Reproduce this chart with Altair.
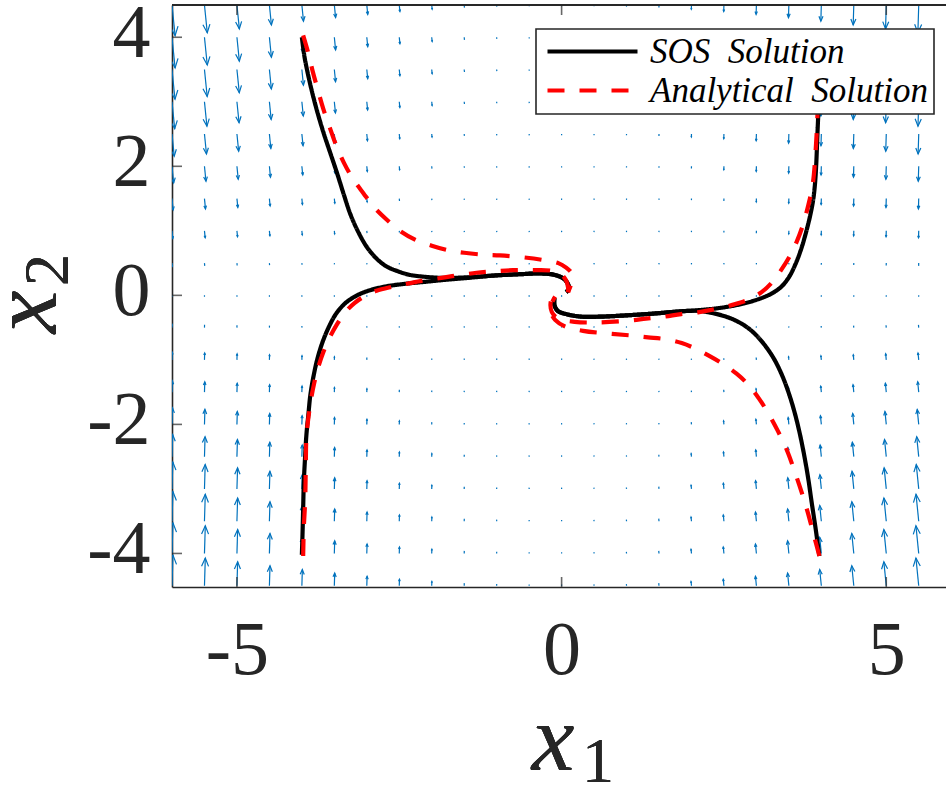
import math
import altair as alt
import pandas as pd

# ---------------- data ----------------
grid_x = [-6.0, -5.5, -5.0, -4.5, -4.0, -3.5, -3.0, -2.5, -2.0, -1.5, -1.0, -0.5,
          0.0, 0.5, 1.0, 1.5, 2.0, 2.5, 3.0, 3.5, 4.0, 4.5, 5.0, 5.5]
grid_y = [-4.5, -4.0, -3.5, -3.0, -2.5, -2.0, -1.5, -1.0, -0.5, 0.0,
          0.5, 1.0, 1.5, 2.0, 2.5, 3.0, 3.5, 4.0, 4.5]
col_mag = [0.95, 0.86, 0.74, 0.62, 0.50, 0.39, 0.29, 0.20, 0.13, 0.08, 0.05, 0.03,
           0.02, 0.03, 0.05, 0.08, 0.13, 0.20, 0.29, 0.39, 0.50, 0.62, 0.74, 0.86]
row_mag = [1.0, 1.0, 0.97, 0.88, 0.72, 0.54, 0.37, 0.25, 0.10, 0.0,
           0.10, 0.25, 0.37, 0.54, 0.72, 0.88, 0.97, 1.0, 1.0]
lean_cross = 0.10
lean_same = 0.03

sos1_x = [-4.0, -3.96, -3.9, -3.83, -3.75, -3.66, -3.56, -3.46, -3.35, -3.25, -3.13, -3.0,
          -2.85, -2.7, -2.54, -2.35, -2.13, -1.8, -1.45, -1.0, -0.6, -0.35, -0.12, 0.03,
          0.1, 0.11, 0.07]
sos1_y = [4.0, 3.7, 3.4, 3.1, 2.8, 2.5, 2.2, 1.9, 1.55, 1.25, 0.98, 0.75,
          0.57, 0.45, 0.38, 0.32, 0.29, 0.27, 0.28, 0.31, 0.33, 0.34, 0.32, 0.26,
          0.17, 0.1, 0.05]
sos2_x = [-4.0, -3.99, -3.98, -3.97, -3.95, -3.93, -3.9, -3.87, -3.82, -3.76, -3.68, -3.58,
          -3.47, -3.33, -3.15, -2.95, -2.7, -2.4, -2.1, -1.8, -1.45, -1.0, -0.6, -0.35,
          -0.12, 0.03, 0.1, 0.11, 0.07]
sos2_y = [-4.02, -3.7, -3.3, -2.9, -2.5, -2.16, -1.85, -1.55, -1.25, -0.98, -0.72, -0.48,
          -0.28, -0.12, 0.0, 0.08, 0.14, 0.18, 0.21, 0.24, 0.27, 0.31, 0.33, 0.34,
          0.32, 0.26, 0.17, 0.1, 0.05]
sos3_x = [3.98, 3.97, 3.96, 3.94, 3.92, 3.9, 3.87, 3.82, 3.76, 3.69, 3.6, 3.5, 3.38, 3.22,
          3.0, 2.7, 2.4, 2.1, 1.8, 1.45, 1.0, 0.6, 0.3, 0.07, -0.06, -0.11, -0.11]
sos3_y = [4.0, 3.5, 3.0, 2.5, 2.0, 1.7, 1.45, 1.2, 0.96, 0.72, 0.48, 0.28, 0.13, 0.02,
          -0.07, -0.15, -0.2, -0.23, -0.25, -0.28, -0.31, -0.33, -0.33, -0.29, -0.24,
          -0.15, -0.04]
sos4_x = [3.97, 3.91, 3.85, 3.8, 3.74, 3.67, 3.59, 3.5, 3.4, 3.28, 3.15, 3.0, 2.85, 2.68,
          2.5, 2.3, 2.1, 1.8, 1.45, 1.0, 0.6, 0.3, 0.07, -0.06, -0.11, -0.11]
sos4_y = [-4.04, -3.6, -3.2, -2.85, -2.5, -2.15, -1.82, -1.52, -1.25, -1.0, -0.8, -0.62,
          -0.49, -0.39, -0.32, -0.27, -0.24, -0.25, -0.28, -0.31, -0.33, -0.33, -0.29,
          -0.24, -0.15, -0.04]

ana1_x = [-3.98, -3.9, -3.83, -3.75, -3.67, -3.57, -3.47, -3.35, -3.21, -3.05, -2.9, -2.7,
          -2.49, -2.25, -2.0, -1.75, -1.5, -1.2, -0.95, -0.6, -0.3, -0.05, 0.07, 0.15, 0.17,
          0.14, 0.1]
ana1_y = [4.03, 3.75, 3.46, 3.17, 2.89, 2.6, 2.32, 2.05, 1.8, 1.58, 1.38, 1.18,
          1.0, 0.86, 0.77, 0.7, 0.66, 0.63, 0.62, 0.59, 0.55, 0.5, 0.43, 0.35, 0.26,
          0.15, 0.05]
ana2_x = [-3.98, -3.97, -3.95, -3.94, -3.93, -3.9, -3.86, -3.81, -3.75, -3.67, -3.57, -3.46,
          -3.34, -3.19, -3.03, -2.85, -2.62, -2.38, -2.13, -1.85, -1.6, -1.31, -1.06, -0.75,
          -0.45, -0.15, 0.0, 0.07, 0.1, 0.1]
ana2_y = [-4.04, -3.6, -3.2, -2.7, -2.2, -1.9, -1.62, -1.36, -1.12, -0.88, -0.65, -0.45,
          -0.27, -0.12, -0.01, 0.07, 0.13, 0.18, 0.23, 0.27, 0.31, 0.35, 0.37, 0.39,
          0.39, 0.38, 0.32, 0.23, 0.12, 0.03]
ana3_x = [3.98, 3.97, 3.95, 3.94, 3.92, 3.87, 3.8, 3.71, 3.62, 3.51, 3.38, 3.24, 3.08, 2.89,
          2.66, 2.38, 2.12, 1.84, 1.58, 1.3, 1.05, 0.58, 0.2, -0.05, -0.15, -0.17, -0.13]
ana3_y = [4.0, 3.6, 3.2, 2.79, 2.37, 1.74, 1.4, 1.07, 0.83, 0.6, 0.39, 0.2, 0.05, -0.06,
          -0.14, -0.21, -0.26, -0.29, -0.33, -0.36, -0.39, -0.42, -0.41, -0.36, -0.26, -0.12, 0.0]
ana4_x = [3.97, 3.88, 3.79, 3.7, 3.61, 3.47, 3.33, 3.19, 3.04, 2.88, 2.69, 2.48, 2.26, 2.05,
          1.85, 1.6, 1.33, 1.05, 0.7, 0.33, 0.05, -0.1, -0.17, -0.15, -0.1]
ana4_y = [-4.04, -3.7, -3.36, -3.06, -2.79, -2.4, -2.1, -1.84, -1.6, -1.39, -1.21, -1.06,
          -0.93, -0.82, -0.74, -0.68, -0.65, -0.62, -0.59, -0.55, -0.48, -0.38, -0.25, -0.12,
          -0.02]

series_names = ["SOS\u00a0\u00a0Solution", "Analytical\u00a0\u00a0Solution"]
x_ticks = [-5, 0, 5]
y_ticks = [-4, -2, 0, 2, 4]

X_MIN, X_MAX = -6.0, 5.92
Y_MIN, Y_MAX = -4.52, 4.5
W, H = 774, 582
PAD_L, PAD_T = 172, 5
KX = W / (X_MAX - X_MIN)
KY = H / (Y_MAX - Y_MIN)
SPACING = 0.5
BLUE = "#0072BD"
AX = "#262626"
FONT = "Liberation Serif"

rows = []
for i, gx in enumerate(grid_x):
    for j, gy in enumerate(grid_y):
        mag = max(col_mag[i] * row_mag[j], 0.04) * SPACING
        dir_y = -1.0 if gy > 0 else (1.0 if gy < 0 else -1.0)
        sx = -1.0 if gx > 0 else 1.0
        lean = lean_cross if gx * gy < 0 else lean_same
        dy = dir_y * mag
        dx = sx * lean * mag
        tx, ty = gx + dx, gy + dy
        px_dx, px_dy = dx * KX, -dy * KY
        lpx = math.hypot(px_dx, px_dy)
        ang = math.degrees(math.atan2(px_dy, px_dx)) % 360
        head = 0.3 * lpx if lpx > 3 else 0.0
        rows.append(dict(x=gx, y=gy, tx=tx, ty=ty, ang=ang, hs=(2 * head) ** 2))
quiver = pd.DataFrame(rows)


def curve_frame(xs, ys, cid, series):
    return pd.DataFrame({"x": xs, "y": ys, "ord": list(range(len(xs))),
                         "cid": cid, "series": series})


sos_df = pd.concat([
    curve_frame(sos1_x, sos1_y, "s1", series_names[0]),
    curve_frame(sos2_x, sos2_y, "s2", series_names[0]),
    curve_frame(sos3_x, sos3_y, "s3", series_names[0]),
    curve_frame(sos4_x, sos4_y, "s4", series_names[0]),
])
ana_df = pd.concat([
    curve_frame(ana1_x, ana1_y, "a1", series_names[1]),
    curve_frame(ana2_x, ana2_y, "a2", series_names[1]),
    curve_frame(ana3_x, ana3_y, "a3", series_names[1]),
    curve_frame(ana4_x, ana4_y, "a4", series_names[1]),
])
xt_df = pd.DataFrame({"x": x_ticks})
yt_df = pd.DataFrame({"y": y_ticks})

xscale = alt.Scale(domain=[X_MIN, X_MAX], nice=False, zero=False)
yscale = alt.Scale(domain=[Y_MIN, Y_MAX], nice=False, zero=False)
lab_expr = "datum.value < 0 ? '-' + format(abs(datum.value), 'd') : format(datum.value, 'd')"
xaxis = alt.Axis(values=x_ticks, labelExpr=lab_expr, title=None, ticks=False, grid=False,
                 labelPadding=26, labelFontSize=76, labelFont=FONT, labelColor=AX,
                 domainColor=AX, domainWidth=1.6, labelFlush=False, labelOverlap=False)
yaxis = alt.Axis(values=y_ticks, labelExpr=lab_expr, title=None, ticks=False, grid=False,
                 labelPadding=22, labelFontSize=76, labelFont=FONT, labelColor=AX,
                 domainColor=AX, domainWidth=1.6, labelOffset=-4, labelFlush=False,
                 labelOverlap=False)


def X(f="x"):
    return alt.X(f"{f}:Q", scale=xscale, axis=xaxis)


def Y(f="y"):
    return alt.Y(f"{f}:Q", scale=yscale, axis=yaxis)


color = alt.Color("series:N", scale=alt.Scale(domain=series_names, range=["black", "#FF0000"]),
                  legend=alt.Legend(title=None))
dash = alt.StrokeDash("series:N", scale=alt.Scale(domain=series_names, range=[[1, 0], [17, 15]]),
                      legend=alt.Legend(title=None))

shafts = alt.Chart(quiver).mark_rule(clip=True, strokeWidth=1.2, color=BLUE).encode(
    x=X(), y=Y(), x2="tx:Q", y2="ty:Q")
heads = alt.Chart(quiver).mark_point(
    clip=True, shape="M-1,-0.42L0,0L-1,0.42", filled=False, strokeWidth=1.2, color=BLUE,
    opacity=1).encode(
    x=X("tx"), y=Y("ty"),
    angle=alt.Angle("ang:Q", scale=None),
    size=alt.Size("hs:Q", scale=None))

sos_lines = alt.Chart(sos_df).mark_line(clip=True, strokeWidth=4.2, interpolate="catmull-rom").encode(
    x=X(), y=Y(), order="ord:Q", detail="cid:N", color=color, strokeDash=dash)
ana_lines = alt.Chart(ana_df).mark_line(clip=True, strokeWidth=4.2, interpolate="catmull-rom").encode(
    x=X(), y=Y(), order="ord:Q", detail="cid:N", color=color, strokeDash=dash)

xt_bottom = alt.Chart(xt_df).mark_tick(orient="vertical", clip=True, size=20, thickness=1.6,
                                       color=AX).encode(x=X(), y=alt.datum(Y_MIN))
xt_top = alt.Chart(xt_df).mark_tick(orient="vertical", clip=True, size=20, thickness=1.6,
                                    color=AX).encode(x=X(), y=alt.datum(Y_MAX))
yt_left = alt.Chart(yt_df).mark_tick(orient="horizontal", clip=True, size=20, thickness=1.6,
                                     color=AX).encode(x=alt.datum(X_MIN), y=Y())
top_border = alt.Chart(xt_df).mark_rule(strokeWidth=1.6, color=AX).encode(
    x=alt.datum(X_MIN), x2=alt.datum(X_MAX), y=alt.datum(Y_MAX))

t_x1 = alt.Chart(xt_df).mark_text(text="x", font=FONT, fontStyle="italic", fontSize=96,
                                  align="center", baseline="alphabetic", color=AX).encode(
    x=alt.value(553 - PAD_L), y=alt.value(770 - PAD_T))
t_x1s = alt.Chart(xt_df).mark_text(text="1", font=FONT, fontSize=64, align="left",
                                   baseline="alphabetic", color=AX).encode(
    x=alt.value(582 - PAD_L), y=alt.value(782 - PAD_T))
t_x2 = alt.Chart(xt_df).mark_text(text="x", font=FONT, fontStyle="italic", fontSize=96,
                                  align="center", baseline="alphabetic", angle=270, color=AX).encode(
    x=alt.value(56 - PAD_L), y=alt.value(312 - PAD_T))
t_x2s = alt.Chart(xt_df).mark_text(text="2", font=FONT, fontSize=64, align="left",
                                   baseline="alphabetic", angle=270, color=AX).encode(
    x=alt.value(68 - PAD_L), y=alt.value(286 - PAD_T))

LEG_PAD = 5
chart = alt.layer(
    shafts, heads, sos_lines, ana_lines, xt_bottom, xt_top, yt_left, top_border,
    t_x1, t_x1s, t_x2, t_x2s
).properties(
    width=W, height=H,
    padding={"left": PAD_L, "top": PAD_T, "right": 0, "bottom": 787 - PAD_T - H},
    autosize=alt.AutoSizeParams(type="none"),
    background="white",
).configure_view(stroke=None).configure_legend(
    orient="none", legendX=536 - PAD_L, legendY=29 - PAD_T,
    symbolType="M-3,0L3,0", symbolSize=900, symbolStrokeWidth=4,
    symbolOffset=39 - LEG_PAD, labelOffset=40,
    labelFont=FONT, labelFontStyle="italic", labelFontSize=35, labelColor="black",
    labelLimit=0, padding=LEG_PAD, rowPadding=3,
    strokeColor=AX, fillColor="white", cornerRadius=0, strokeWidth=1.6,
)

chart.save("out.html", embed_options={"renderer": "svg", "actions": False})
